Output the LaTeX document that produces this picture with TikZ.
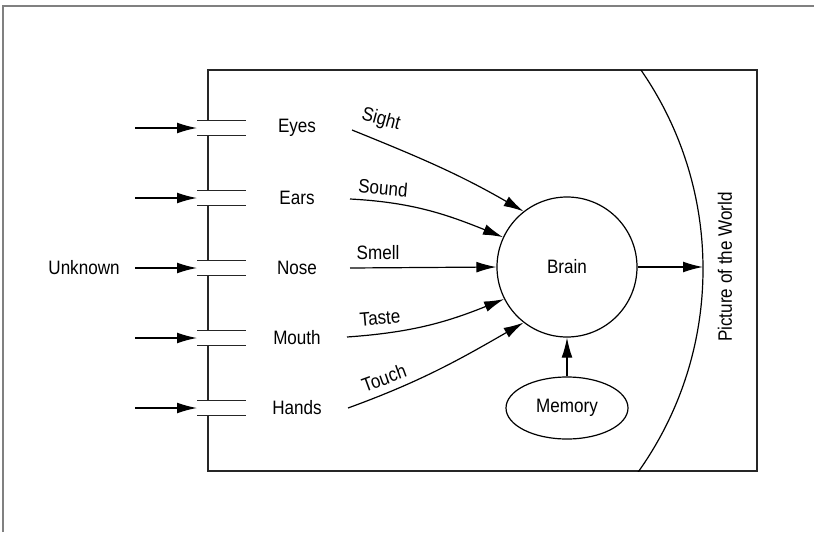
\documentclass[tikz,border=0pt]{standalone}
\usepackage{fontspec}
\setmainfont{Liberation Sans}[FakeStretch=0.88]
\usetikzlibrary{arrows.meta,shapes.geometric}

\begin{document}
\begin{tikzpicture}[x=0.5pt,y=0.5pt]
\tikzset{every node/.style={font=\fontsize{9.7}{11}\selectfont}}
\tikzset{feed/.style={-{Latex[length=10pt,width=5.4pt]},line width=0.6pt}}
\tikzset{channel/.style={line width=0.75pt,draw=black!85}}
\tikzset{frame/.style={line width=0.75pt,draw=black!85}}
\tikzset{sense/.style={inner sep=0pt}}

\useasboundingbox (0,0) rectangle (814,532);
\draw[line width=0.75pt,gray] (3,0) -- (3,526) -- (814,526);

% the box, open at each channel
\draw[frame] (208,411.5) -- (208,462) -- (757,462) -- (757,61) -- (208,61) -- (208,116.5);
\foreach \a/\b in {396.5/341.5, 326.5/271.5, 256.5/201.5, 186.5/131.5}
  \draw[frame] (208,\a) -- (208,\b);

% channels with their inputs
\foreach \n/\y/\t in {eyes/404/Eyes, ears/334/Ears, nose/264/Nose, mouth/194/Mouth, hands/124/Hands}{
  \coordinate (\n-in) at (197,\y);
  \coordinate (\n-src) at (135,\y);
  \draw[channel] (197,\y+7.5) -- (246,\y+7.5) (197,\y-7.5) -- (246,\y-7.5);
  \node[sense] (\n) at (297,\y) {\t};
}
\node[anchor=east,inner xsep=7.5pt] (unknown) at (135,264) {Unknown};
\draw[feed] (unknown.east) -- (nose-in);
\foreach \n in {eyes,ears,mouth,hands}
  \draw[feed] (\n-src) -- (\n-in);

\node[circle,draw,line width=0.6pt,minimum size=70pt,inner sep=0pt] (brain) at (567,265) {Brain};
\node[ellipse,draw,line width=0.6pt,minimum width=61pt,minimum height=31pt,inner sep=0pt] (memory) at (567,124) {Memory};

% the world
\begin{scope}
\clip (208,61) rectangle (757,462);
\draw[line width=0.6pt] (353,263) circle[radius=350];
\end{scope}
\coordinate (world) at (703,265);
\node[rotate=90] (picture) at (725,265) {Picture of the World};

% senses into the brain
\coordinate (sight-s) at (352,402);
\coordinate (sound-s) at (350,333);
\coordinate (smell-s) at (350,264);
\coordinate (taste-s) at (347,195);
\coordinate (touch-s) at (348,124);
\draw[feed] (sight-s) to[out=-22,in=150] (brain.128);
\draw[feed] (sound-s) to[out=-3,in=158] (brain.155);
\draw[feed] (smell-s) -- (brain.180);
\draw[feed] (taste-s) to[out=4,in=-158] (brain.207);
\draw[feed] (touch-s) to[out=20,in=-150] (brain.232);

\node[rotate=-15] at (381,412) {Sight};
\node[rotate=-5] at (383,344) {Sound};
\node at (378,279) {Smell};
\node[rotate=5] at (380,214) {Taste};
\node[rotate=20] at (384,154) {Touch};

\draw[feed] (brain.east) -- (world);
\draw[feed] (memory.north) -- (brain.south);

\end{tikzpicture}
\end{document}
